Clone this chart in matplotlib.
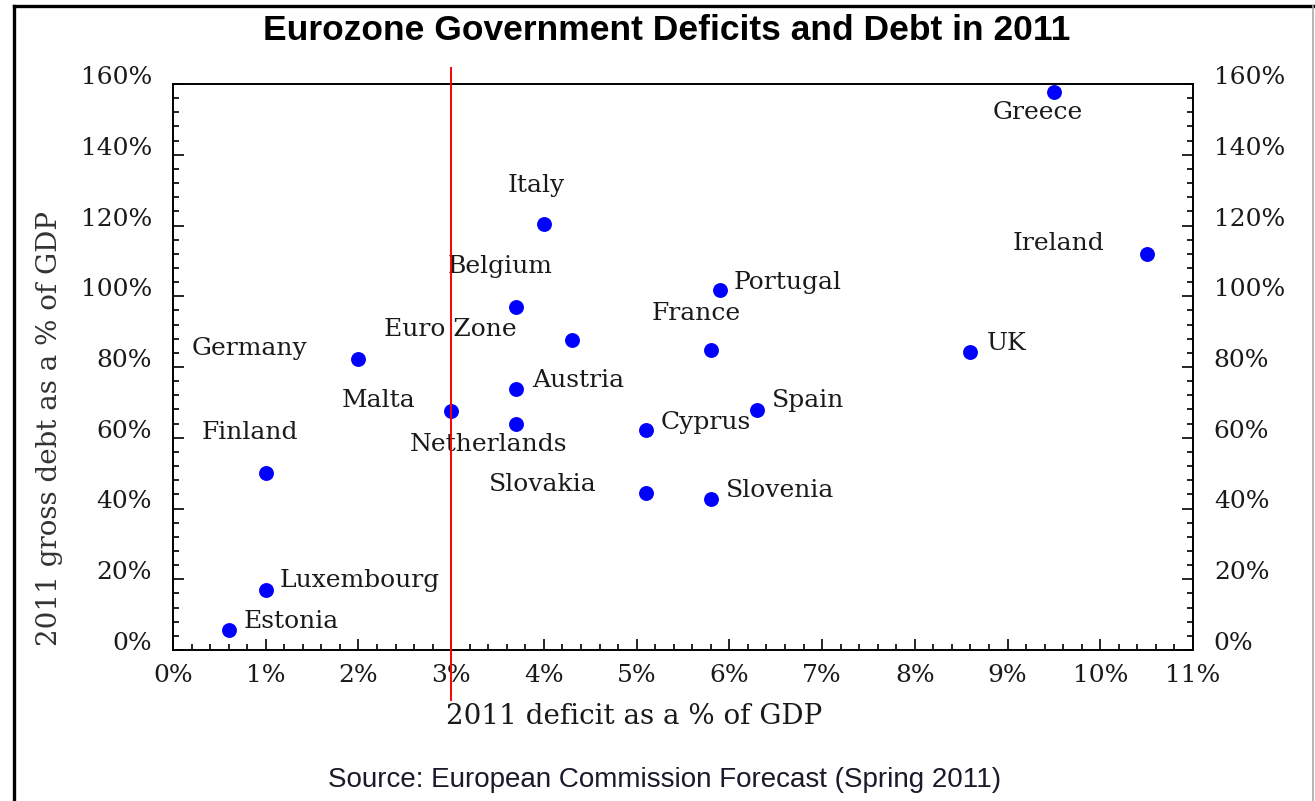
import matplotlib
matplotlib.use("Agg")
import matplotlib.pyplot as plt
from matplotlib.lines import Line2D
from matplotlib.ticker import MultipleLocator, FuncFormatter

# ---- data ----
countries = ["Greece", "Ireland", "Italy", "Portugal", "Belgium", "Euro Zone",
             "France", "Germany", "UK", "Austria", "Malta", "Spain",
             "Netherlands", "Cyprus", "Finland", "Slovakia", "Slovenia",
             "Luxembourg", "Estonia"]
deficit = [9.5, 10.5, 4.0, 5.9, 3.7, 4.3, 5.8, 2.0, 8.6, 3.7, 3.0, 6.3,
           3.7, 5.1, 1.0, 5.1, 5.8, 1.0, 0.6]
debt = [157.7, 112.0, 120.3, 101.7, 97.0, 87.7, 84.7, 82.3, 84.2, 73.8, 67.6,
        67.9, 63.8, 62.1, 50.1, 44.5, 42.6, 16.9, 5.6]
x_ticks = [0, 1, 2, 3, 4, 5, 6, 7, 8, 9, 10, 11]
y_ticks = [0, 20, 40, 60, 80, 100, 120, 140, 160]
threshold = 3.0

# ---- label placement (pixel offsets, alignment) ----
label_pos = {
    "Greece": (-16, -20, "center"), "Ireland": (-42, 10, "right"),
    "Italy": (-8, 39, "center"), "Portugal": (14, 8, "left"),
    "Belgium": (-16, 40, "center"), "Euro Zone": (-55, 10, "right"),
    "France": (-15, 37, "center"), "Germany": (-51, 10, "right"),
    "UK": (16, 9, "left"), "Austria": (16, 8, "left"),
    "Malta": (-36, 10, "right"), "Spain": (15, 9, "left"),
    "Netherlands": (-28, -20, "center"), "Cyprus": (15, 8, "left"),
    "Finland": (-16, 40, "center"), "Slovakia": (-49, 8, "right"),
    "Slovenia": (15, 9, "left"), "Luxembourg": (14, 10, "left"),
    "Estonia": (15, 9, "left"),
}

W, H = 1315, 801
fig = plt.figure(figsize=(W / 100, H / 100), dpi=100)
fig.patch.set_facecolor("white")
ax = fig.add_axes([173 / W, 1 - 650 / H, (1193 - 173) / W, (650 - 84) / H])

serif = "DejaVu Serif"
tcol = "#1a1a1a"
fs = 18

ax.scatter(deficit, debt, s=115, color="#0000ff", zorder=3, linewidths=0)
for c, x, y in zip(countries, deficit, debt):
    dx, dy, ha = label_pos[c]
    ax.annotate(c, (x, y), xytext=(dx, dy), textcoords="offset pixels",
                ha=ha, va="center", fontsize=fs, family=serif, color=tcol)

ax.axvline(threshold, ymin=-0.088, ymax=1.028, color="#ff0000", lw=1.4,
           clip_on=False, zorder=4)

ax.set_xlim(0, 11)
ax.set_ylim(0, 160)
ax.set_xticks(x_ticks)
ax.set_yticks(y_ticks)
ax.xaxis.set_minor_locator(MultipleLocator(0.2))
ax.yaxis.set_minor_locator(MultipleLocator(4))
pct = FuncFormatter(lambda v, p: f"{v:.0f}%")
ax.xaxis.set_major_formatter(pct)
ax.yaxis.set_major_formatter(pct)
ax.tick_params(which="both", direction="in", left=True, right=True,
               bottom=True, top=False, labelright=True, width=1.2,
               colors="black", labelcolor=tcol)
ax.tick_params(which="major", length=8)
ax.tick_params(which="minor", length=4.5)
ax.tick_params(axis="x", which="major", pad=10, labelsize=fs)
ax.tick_params(axis="y", which="major", pad=15, labelsize=fs)
for lab in ax.get_xticklabels() + ax.get_yticklabels():
    lab.set_family(serif)
for lab in ax.get_yticklabels():
    lab.set_verticalalignment("baseline")
for sp in ax.spines.values():
    sp.set_linewidth(1.4)

fig.text(667 / W, 1 - 30 / H, "Eurozone Government Deficits and Debt in 2011",
         ha="center", va="center", fontsize=25.5, fontweight="bold",
         family="Liberation Sans", color="black")
fig.text(634 / W, 1 - 716 / H, "2011 deficit as a % of GDP", ha="center",
         va="center", fontsize=20, family=serif, color=tcol)
fig.text(50 / W, 1 - 428 / H, "2011 gross debt as a % of GDP", ha="center",
         va="center", rotation=90, fontsize=20, family=serif, color="#333333")
fig.text(665 / W, 1 - 780 / H,
         "Source: European Commission Forecast (Spring 2011)", ha="center",
         va="center", fontsize=20, family="Liberation Sans", color="#1a1a2a")

# figure frame
fig.add_artist(Line2D([13.5 / W, 13.5 / W], [0, 1 - 5.5 / H], color="black",
                      lw=2.4, transform=fig.transFigure))
fig.add_artist(Line2D([13.5 / W, 1], [1 - 5.5 / H, 1 - 5.5 / H],
                      color="black", lw=2.4, transform=fig.transFigure))
fig.add_artist(Line2D([1312.5 / W, 1312.5 / W], [0, 1 - 5.5 / H],
                      color="#aaaaaa", lw=1.2, transform=fig.transFigure))

fig.savefig("out.png", dpi=100)
